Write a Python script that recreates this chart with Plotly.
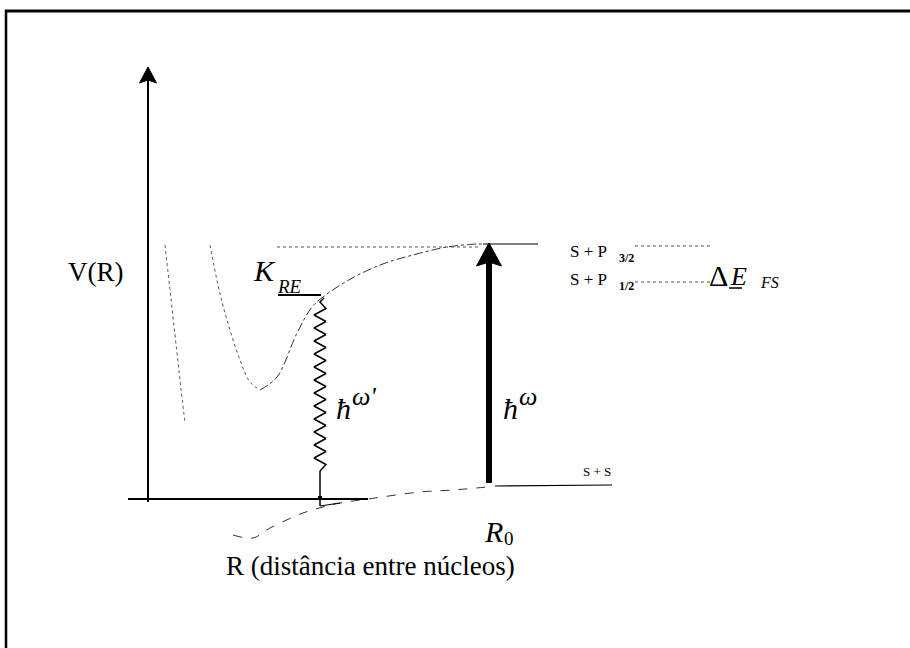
import numpy as np
import plotly.graph_objects as go

# ---- diagram data (page-pixel units, y grows downward) ----
# repulsive (leftmost) curve
repulsive_R = [165, 170, 175, 180, 185]
repulsive_V = [245, 290, 335, 380, 423]
# excited-state well (K_RE), left dotted part
excited_left_R = [210, 218, 227, 240, 250, 260]
excited_left_V = [245, 285, 320, 360, 382, 390]
# excited-state well, rising dashed part
excited_right_R = [260, 277, 297, 312, 323, 347, 380, 413, 447, 477, 483]
excited_right_V = [390, 377, 333, 307, 297, 281, 265, 255, 247, 244, 244]
# asymptote S+P (solid piece)
asym_R = [483, 538]
asym_V = [244, 244]
# dotted top level line
top_level_R = [277, 480]
top_level_V = [247, 247]
# ground state well (dashed) and S+S asymptote
ground_R = [233, 253, 270, 303, 323, 340, 368, 420, 453, 487]
ground_V = [535, 538, 528, 513, 507, 503, 499, 492, 490, 487]
ground_asym_R = [495, 612]
ground_asym_V = [486, 485]
# axes
vaxis_R = [148, 148]
vaxis_V = [502, 80]
haxis_R = [128, 368]
haxis_V = [499, 499]
# fine-structure levels
fs_R = [635, 712]
fs_upper_V = [246, 246]
fs_lower_V = [282, 282]
# K_RE level line
kre_R = [278, 321]
kre_V = [295, 295]
# transitions
absorb_R = 489
absorb_bottom = 483
absorb_top = 262
emit_R = 320
emit_top = 302
emit_zig_bottom = 471
emit_bottom = 506
zig_periods = 13
zig_amp = 6

fig = go.Figure()
ink = "#000000"
faint = "#555555"

def line(xs, ys, color=ink, width=1.0, dash="solid", shape="linear"):
    fig.add_trace(go.Scatter(x=xs, y=ys, mode="lines", hoverinfo="skip",
                             line=dict(color=color, width=width, dash=dash, shape=shape),
                             showlegend=False))

def head(tip_x, tip_y, half_w, length, notch):
    base_y = tip_y + length
    xs = [tip_x, tip_x - half_w, tip_x, tip_x + half_w, tip_x]
    ys = [tip_y, base_y, base_y - notch, base_y, tip_y]
    fig.add_trace(go.Scatter(x=xs, y=ys, mode="lines", fill="toself", fillcolor=ink,
                             line=dict(color=ink, width=1), hoverinfo="skip", showlegend=False))

# frame (top and left only)
line([5, 910], [11, 11], width=3)
line([6, 6], [10, 648], width=2.5)

# curves
line(repulsive_R, repulsive_V, color=faint, width=1, dash="dot", shape="spline")
line(excited_left_R, excited_left_V, color=faint, width=1, dash="dot", shape="spline")
line(excited_right_R, excited_right_V, color="#333333", width=1, dash="dashdot", shape="spline")
line(asym_R, asym_V, width=1.2)
line(top_level_R, top_level_V, color=faint, width=1, dash="dot")
line(ground_R, ground_V, color="#333333", width=1, dash="dash", shape="spline")
line(ground_asym_R, ground_asym_V, width=1.2)

# axes
line(vaxis_R, vaxis_V, width=2)
head(148, 67, 8.5, 16, 3)
line(haxis_R, haxis_V, width=2)

# fine-structure levels
line(fs_R, fs_upper_V, color=faint, width=1, dash="dot")
line(fs_R, fs_lower_V, color=faint, width=1, dash="dot")
line(kre_R, kre_V, width=1.8)

# absorption arrow
line([absorb_R, absorb_R], [absorb_bottom, absorb_top], width=6)
head(absorb_R, 243, 12.5, 23, 4)

# emission zigzag
n = zig_periods * 2
zy = list(np.linspace(emit_top, emit_zig_bottom, n + 1))
zx = [emit_R + (zig_amp if i % 2 else -zig_amp) for i in range(n + 1)]
zx[0] = emit_R
zx[-1] = emit_R
line([emit_R + 4] + zx, [298] + zy, width=1.5)
line([emit_R, emit_R], [emit_zig_bottom, emit_bottom], width=1.5)
fig.add_trace(go.Scatter(x=[emit_R], y=[498], mode="markers", hoverinfo="skip", showlegend=False,
                         marker=dict(symbol="square", size=4, color=ink)))
line([emit_R, 340], [506, 503], width=1.2)

serif = "Liberation Serif"

def txt(x, y, s, size, italic=False, bold=False, xanchor="center"):
    if italic:
        s = "<i>" + s + "</i>"
    if bold:
        s = "<b>" + s + "</b>"
    fig.add_annotation(x=x, y=y, xref="x", yref="y", text=s, showarrow=False,
                       xanchor=xanchor, yanchor="middle",
                       font=dict(family=serif, size=size, color=ink))

txt(96, 272, "V(R)", 27)
txt(264, 270, "K", 30, italic=True)
txt(289, 286, "RE", 19, italic=True)
txt(343, 408, "ħ", 30, italic=True)
txt(364, 396, "ω'", 26, italic=True)
txt(510, 408, "ħ", 30, italic=True)
txt(528, 396, "ω", 26, italic=True)
txt(493, 531, "R", 30, italic=True)
txt(509, 538, "0", 19)
txt(370, 566, "R (distância entre núcleos)", 27)
txt(588, 251, "S + P", 17)
txt(626, 258, "3/2", 12, bold=True)
txt(588, 279, "S + P", 17)
txt(626, 286, "1/2", 12, bold=True)
txt(718, 275, "Δ", 30)
txt(738, 276, "E", 26, italic=True)
line([729, 742], [288, 288], width=1.5)
txt(769, 282, "FS", 16, italic=True)
txt(597, 471, "S + S", 13)

fig.update_layout(
    width=910, height=648, autosize=False,
    margin=dict(l=0, r=0, t=0, b=0, pad=0),
    paper_bgcolor="white", plot_bgcolor="white",
    xaxis=dict(range=[0, 910], visible=False, fixedrange=True),
    yaxis=dict(range=[648, 0], visible=False, fixedrange=True),
    showlegend=False,
)

fig.write_html("out.html")
